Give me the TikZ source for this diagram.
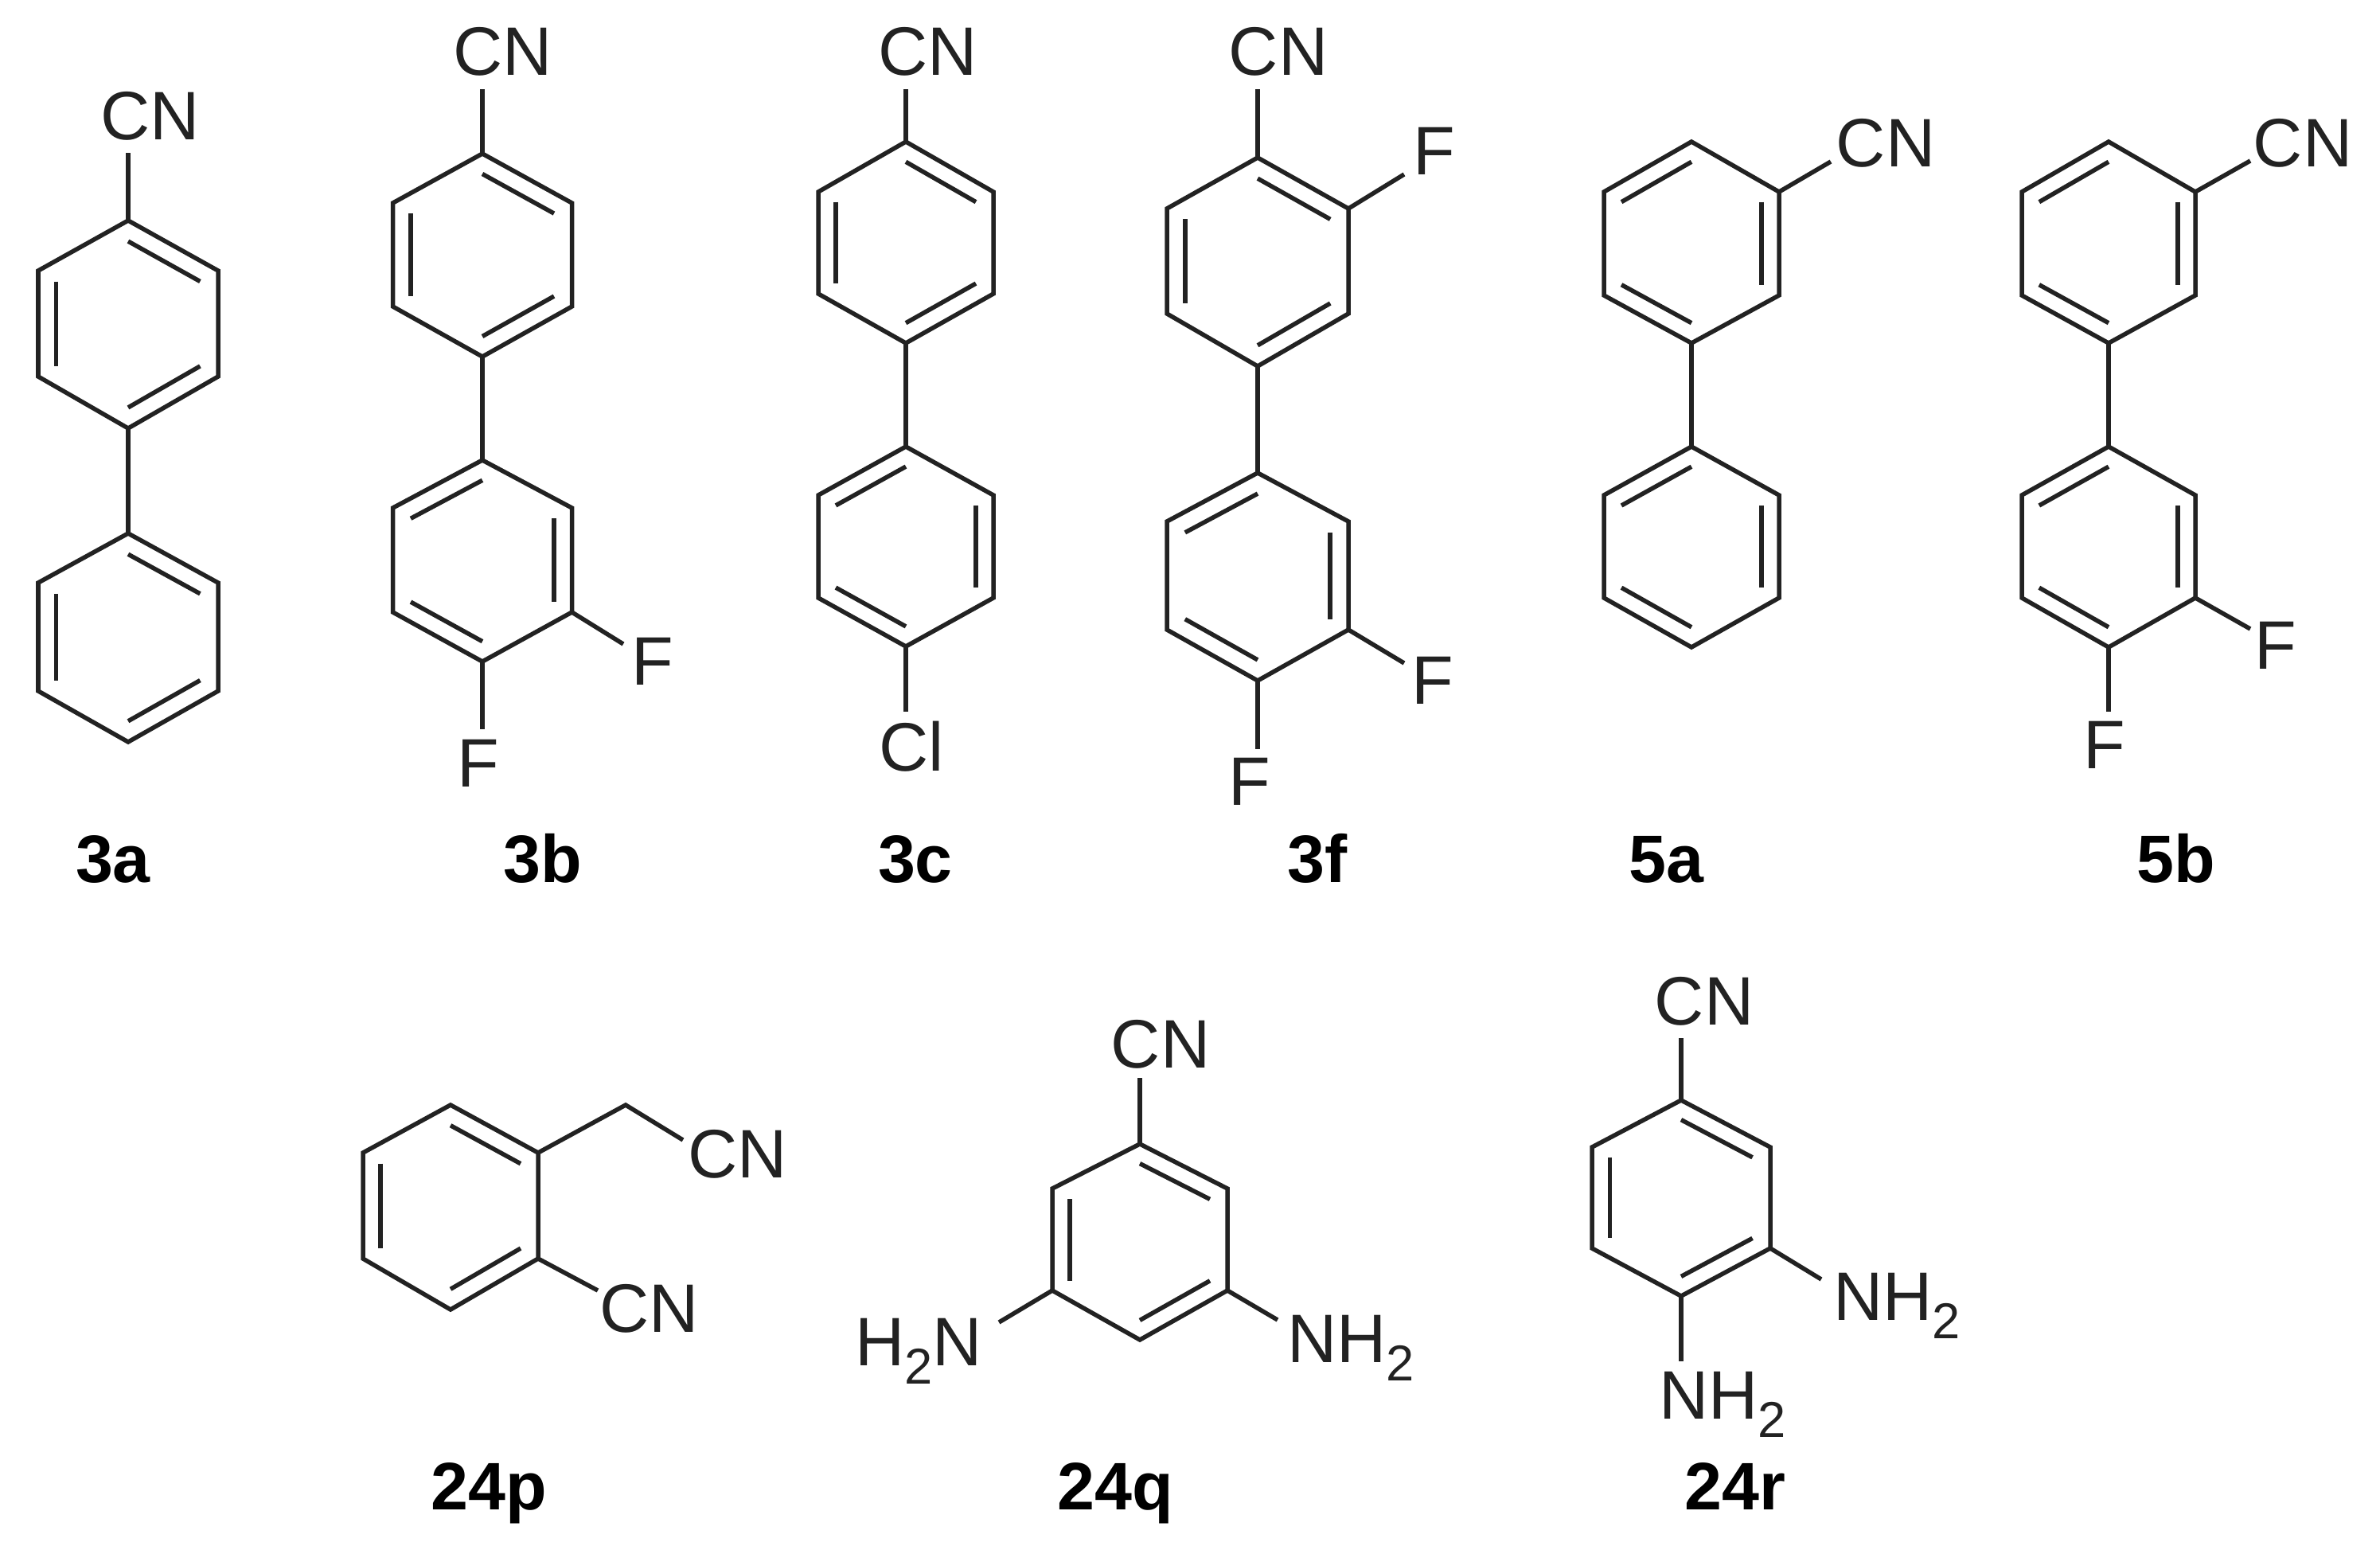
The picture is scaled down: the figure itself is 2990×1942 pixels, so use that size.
\documentclass[tikz,border=0pt]{standalone}
\usepackage{fontspec}
\setmainfont{Liberation Sans}
\usetikzlibrary{calc}
\definecolor{ink}{HTML}{222222}
\newcommand\subtwo{\raisebox{-6.8pt}{\fontsize{18}{18}\selectfont 2}}
% ring: name, cx, half width, y top, y upper shoulder, y lower shoulder, y bottom
\newcommand\molring[7]{%
  \coordinate (#11) at (#2,#4);
  \coordinate (#12) at (#2+#3,#5);
  \coordinate (#13) at (#2+#3,#6);
  \coordinate (#14) at (#2,#7);
  \coordinate (#15) at (#2-#3,#6);
  \coordinate (#16) at (#2-#3,#5);
  \coordinate (#1c) at (#2,{(#4+#7)/2});
  \draw[bond] (#11)--(#12)--(#13)--(#14)--(#15)--(#16)--cycle;
}
% inner line of a double bond
\newcommand\dbl[3]{\draw[bond] ($(#1#2)!.2!(#1c)$) -- ($(#1#3)!.2!(#1c)$);}
\begin{document}
\begin{tikzpicture}[x=0.01cm,y=-0.01cm,
  bond/.style={draw=ink,line width=0.055cm,line join=miter},
  lab/.style={anchor=base,inner sep=0pt,outer sep=0pt,text=ink,font=\fontsize{24.5}{28}\selectfont},
  labw/.style={lab,anchor=base west},
  tag/.style={anchor=base,inner sep=0pt,outer sep=0pt,text=black,font=\fontsize{24}{28}\selectfont\bfseries}]
\useasboundingbox (0,0) rectangle (2990,1942);
\fill[white] (0,0) rectangle (2990,1942);

% 3a
\molring{aa}{161}{113}{277}{340}{473}{538}
\molring{ab}{161}{113}{670}{732}{868}{932}
\dbl{aa}{1}{2}\dbl{aa}{6}{5}\dbl{aa}{4}{3}
\dbl{ab}{1}{2}\dbl{ab}{6}{5}\dbl{ab}{4}{3}
\draw[bond] (aa4)--(ab1);
\node[lab] (acn) at (189,175) {CN};
\coordinate (ae) at (161,192);
\draw[bond] (aa1)--(ae);
\node[tag] (a) at (142,1108) {3a};

% 3b
\molring{ba}{606}{112.5}{193}{255}{385}{448}
\molring{bb}{606}{112.5}{578}{638}{769}{831}
\dbl{ba}{1}{2}\dbl{ba}{6}{5}\dbl{ba}{4}{3}
\dbl{bb}{1}{6}\dbl{bb}{2}{3}\dbl{bb}{4}{5}
\draw[bond] (ba4)--(bb1);
\node[lab] (bcn) at (632,94) {CN};
\coordinate (be) at (606,112);
\draw[bond] (ba1)--(be);
\node[lab] (bf1) at (820,860) {F};
\coordinate (be1) at (783,809);
\draw[bond] (bb3)--(be1);
\node[lab] (bf2) at (601,988) {F};
\coordinate (be2) at (606,916);
\draw[bond] (bb4)--(be2);
\node[tag] (b) at (682,1108) {3b};

% 3c
\molring{ca}{1138}{110}{178}{241}{369}{431}
\molring{cb}{1138}{110}{561}{622}{751}{812}
\dbl{ca}{1}{2}\dbl{ca}{6}{5}\dbl{ca}{4}{3}
\dbl{cb}{1}{6}\dbl{cb}{2}{3}\dbl{cb}{4}{5}
\draw[bond] (ca4)--(cb1);
\node[lab] (ccn) at (1166,94) {CN};
\coordinate (ce) at (1138,112);
\draw[bond] (ca1)--(ce);
\node[lab] (ccl) at (1145,968) {Cl};
\coordinate (ce1) at (1138,894);
\draw[bond] (cb4)--(ce1);
\node[tag] (c) at (1150,1108) {3c};

% 3f
\molring{fa}{1580}{114}{198}{262}{394}{460}
\molring{fb}{1580}{114}{594}{655}{791}{855}
\dbl{fa}{1}{2}\dbl{fa}{6}{5}\dbl{fa}{4}{3}
\dbl{fb}{1}{6}\dbl{fb}{2}{3}\dbl{fb}{4}{5}
\draw[bond] (fa4)--(fb1);
\node[lab] (fcn) at (1606,94) {CN};
\coordinate (fe) at (1580,112);
\draw[bond] (fa1)--(fe);
\node[lab] (ff0) at (1802,219) {F};
\coordinate (fe0) at (1764,219);
\draw[bond] (fa2)--(fe0);
\node[lab] (ff1) at (1800,884) {F};
\coordinate (fe1) at (1764,833);
\draw[bond] (fb3)--(fe1);
\node[lab] (ff2) at (1570,1011) {F};
\coordinate (fe2) at (1580,941);
\draw[bond] (fb4)--(fe2);
\node[tag] (f) at (1655,1108) {3f};

% 5a
\molring{ga}{2125}{110}{178}{241}{371}{431}
\molring{gb}{2125}{110}{561}{622}{751}{813}
\dbl{ga}{1}{6}\dbl{ga}{2}{3}\dbl{ga}{4}{5}
\dbl{gb}{1}{6}\dbl{gb}{2}{3}\dbl{gb}{4}{5}
\draw[bond] (ga4)--(gb1);
\node[lab] (gcn) at (2369,209) {CN};
\coordinate (ge) at (2300,203);
\draw[bond] (ga2)--(ge);
\node[tag] (g) at (2093,1108) {5a};

% 5b
\molring{ha}{2649}{109}{178}{241}{371}{431}
\molring{hb}{2649}{109}{561}{622}{751}{813}
\dbl{ha}{1}{6}\dbl{ha}{2}{3}\dbl{ha}{4}{5}
\dbl{hb}{1}{6}\dbl{hb}{2}{3}\dbl{hb}{4}{5}
\draw[bond] (ha4)--(hb1);
\node[lab] (hcn) at (2893,209) {CN};
\coordinate (he) at (2827,202);
\draw[bond] (ha2)--(he);
\node[lab] (hf1) at (2859,840) {F};
\coordinate (he1) at (2827,790);
\draw[bond] (hb3)--(he1);
\node[lab] (hf2) at (2644,965) {F};
\coordinate (he2) at (2649,894);
\draw[bond] (hb4)--(he2);
\node[tag] (h) at (2734,1108) {5b};

% 24p
\molring{pa}{566}{110}{1388}{1448}{1581}{1645}
\dbl{pa}{1}{2}\dbl{pa}{6}{5}\dbl{pa}{3}{4}
\coordinate (pch) at (786,1388);
\coordinate (pe1) at (858,1432);
\draw[bond] (pa2)--(pch)--(pe1);
\node[lab] (pcn1) at (927,1479) {CN};
\coordinate (pe2) at (751,1621);
\draw[bond] (pa3)--(pe2);
\node[lab] (pcn2) at (816,1673) {CN};
\node[tag] (p) at (614,1896) {24p};

% 24q
\molring{qa}{1432}{110}{1437}{1493}{1621}{1683}
\dbl{qa}{1}{2}\dbl{qa}{6}{5}\dbl{qa}{3}{4}
\node[lab] (qcn) at (1458,1341) {CN};
\coordinate (qe) at (1432,1354);
\draw[bond] (qa1)--(qe);
\node[labw] (qn1) at (1074,1715) {H\subtwo N};
\coordinate (qe1) at (1255,1661);
\draw[bond] (qa5)--(qe1);
\node[labw] (qn2) at (1617,1711) {NH\subtwo};
\coordinate (qe2) at (1605,1658);
\draw[bond] (qa3)--(qe2);
\node[tag] (q) at (1401,1896) {24q};

% 24r
\molring{ra}{2112}{112}{1382}{1441}{1568}{1628}
\dbl{ra}{1}{2}\dbl{ra}{6}{5}\dbl{ra}{3}{4}
\node[lab] (rcn) at (2141,1287) {CN};
\coordinate (re) at (2112,1304);
\draw[bond] (ra1)--(re);
\node[labw] (rn1) at (2303,1658) {NH\subtwo};
\coordinate (re1) at (2288,1607);
\draw[bond] (ra3)--(re1);
\node[labw] (rn2) at (2084,1782) {NH\subtwo};
\coordinate (re2) at (2112,1710);
\draw[bond] (ra4)--(re2);
\node[tag] (r) at (2180,1896) {24r};
\end{tikzpicture}
\end{document}
